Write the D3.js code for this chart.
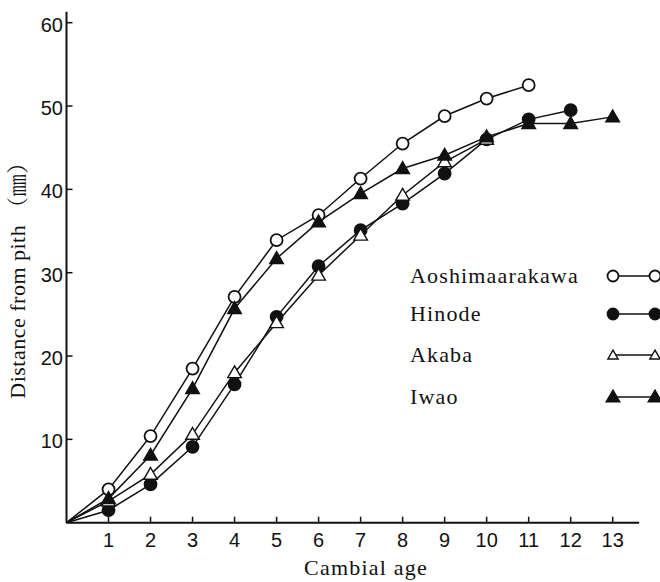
<!DOCTYPE html>
<html lang="en">
<head>
<meta charset="UTF-8">
<title>Distance from pith vs cambial age</title>
<script src="https://d3js.org/d3.v7.min.js"></script>
<style>
    body { margin: 0; background: #fff; }
    .tick-label { font-family: "Liberation Sans Narrow", "Liberation Sans", sans-serif; font-size: 20px; fill: #111; }
    .title { font-family: "Liberation Serif", "Noto Serif CJK JP", serif; font-size: 22px; fill: #111; }
    .legend-text { font-family: "Liberation Serif", serif; font-size: 22px; fill: #111; letter-spacing: 1.15px; }
</style>
</head>
<body>
<script>
    // data
    const ages = [1, 2, 3, 4, 5, 6, 7, 8, 9, 10, 11, 12, 13];
    const seriesNames = ['Aoshimaarakawa', 'Hinode', 'Akaba', 'Iwao'];
    const aoshimaarakawa = [4.0, 10.4, 18.5, 27.1, 33.9, 36.9, 41.3, 45.5, 48.8, 50.9, 52.5];
    const hinode = [1.5, 4.6, 9.1, 16.6, 24.7, 30.8, 35.1, 38.3, 41.9, 46.0, 48.4, 49.5];
    const akaba = [2.6, 5.8, 10.6, 18.0, 24.0, 29.7, 34.5, 39.3, 43.3, 46.0];
    const iwao = [2.9, 8.1, 16.1, 25.7, 31.7, 36.1, 39.5, 42.5, 44.1, 46.3, 47.9, 47.9, 48.7];
    const yTicks = [10, 20, 30, 40, 50, 60];

    const series = [
        {name: seriesNames[0], values: aoshimaarakawa, shape: 'circle', filled: false},
        {name: seriesNames[1], values: hinode, shape: 'circle', filled: true},
        {name: seriesNames[2], values: akaba, shape: 'triangle', filled: false},
        {name: seriesNames[3], values: iwao, shape: 'triangle', filled: true}
    ];

    const W = 660, H = 582;
    const svg = d3.select('body').append('svg').attr('width', W).attr('height', H);

    const x = d3.scaleLinear().domain([0, 13]).range([66.5, 612.7]);
    const y = d3.scaleLinear().domain([0, 60]).range([522.7, 22.7]);

    // axes
    svg.append('line').attr('x1', x(0)).attr('x2', x(13.63)).attr('y1', y(0)).attr('y2', y(0))
        .attr('stroke', '#111').attr('stroke-width', 2);
    svg.append('line').attr('x1', x(0)).attr('x2', x(0)).attr('y1', y(0)).attr('y2', y(61.3))
        .attr('stroke', '#111').attr('stroke-width', 2);

    svg.selectAll('.xtick').data(ages).enter().append('line')
        .attr('x1', d => x(d)).attr('x2', d => x(d))
        .attr('y1', y(0)).attr('y2', y(0) - 6)
        .attr('stroke', '#111').attr('stroke-width', 1.5);
    svg.selectAll('.xlab').data(ages).enter().append('text')
        .attr('class', 'tick-label')
        .attr('x', d => x(d)).attr('y', 547)
        .attr('text-anchor', 'middle')
        .text(d => d);

    svg.selectAll('.ytick').data(yTicks).enter().append('line')
        .attr('x1', x(0)).attr('x2', x(0) + 6)
        .attr('y1', d => y(d)).attr('y2', d => y(d))
        .attr('stroke', '#111').attr('stroke-width', 1.5);
    svg.selectAll('.ylab').data(yTicks).enter().append('text')
        .attr('class', 'tick-label')
        .attr('x', 63).attr('y', d => y(d) + 9)
        .attr('text-anchor', 'end')
        .text(d => d);

    // axis titles
    svg.append('text').attr('class', 'title')
        .attr('x', 366).attr('y', 575).attr('text-anchor', 'middle')
        .style('letter-spacing', '1.2px')
        .text('Cambial age');
    svg.append('text').attr('class', 'title')
        .attr('transform', 'translate(25,275) rotate(-90)')
        .attr('text-anchor', 'middle')
        .style('letter-spacing', '0.5px')
        .text('Distance from pith （㎜）');

    // lines and markers
    const line = d3.line().x(d => x(d[0])).y(d => y(d[1]));
    const triangle = d3.symbol().type(d3.symbolTriangle);

    // size: circle radius, or triangle area
    function marker(g, s, cx, cy, size) {
        if (s.shape === 'circle') {
            g.append('circle').attr('cx', cx).attr('cy', cy).attr('r', size)
                .attr('fill', s.filled ? '#111' : '#fff')
                .attr('stroke', '#111').attr('stroke-width', 1.8);
        } else {
            g.append('path').attr('d', triangle.size(size)())
                .attr('transform', `translate(${cx},${cy + 1})`)
                .attr('fill', s.filled ? '#111' : '#fff')
                .attr('stroke', '#111').attr('stroke-width', 1.4)
                .attr('stroke-linejoin', 'miter');
        }
    }

    series.forEach(s => {
        const pts = [[0, 0]].concat(s.values.map((v, i) => [ages[i], v]));
        svg.append('path').datum(pts).attr('d', line)
            .attr('fill', 'none').attr('stroke', '#111').attr('stroke-width', 1.5);
    });
    series.forEach(s => {
        const g = svg.append('g');
        s.values.forEach((v, i) => marker(g, s, x(ages[i]), y(v), s.shape === 'circle' ? 6 : 80));
    });

    // legend
    const legendY = [276, 314, 355, 397];
    series.forEach((s, i) => {
        svg.append('text').attr('class', 'legend-text')
            .attr('x', 410).attr('y', legendY[i] + 7)
            .text(s.name);
        const g = svg.append('g');
        g.append('line').attr('x1', 613).attr('x2', 655)
            .attr('y1', legendY[i]).attr('y2', legendY[i])
            .attr('stroke', '#111').attr('stroke-width', 1.5);
        const sz = s.shape === 'circle' ? 5.5 : (s.filled ? 80 : 45);
        marker(g, s, 613, legendY[i], sz);
        marker(g, s, 655, legendY[i], sz);
    });
</script>
</body>
</html>
